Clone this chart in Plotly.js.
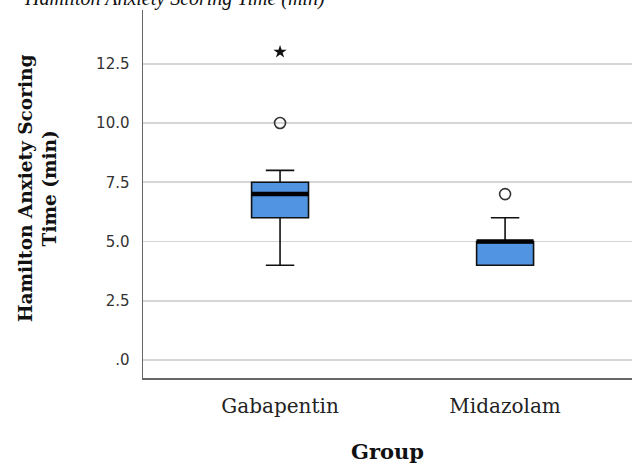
<!DOCTYPE html>
<html>
<head>
<meta charset="utf-8">
<script src="https://cdn.plot.ly/plotly-3.0.1.min.js"></script>
<style>html,body{margin:0;padding:0;background:#fff;}#chart{width:632px;height:464px;}</style>
</head>
<body>
<div id="chart"></div>
<script>
const groups = ['Gabapentin', 'Midazolam'];
const q1 = [6, 4];
const medians = [7, 5];
const q3 = [7.5, 5];
const lowerWhisker = [4, 4];
const upperWhisker = [8, 6];
const outlierGroups = ['Gabapentin', 'Midazolam'];
const outlierValues = [10, 7];
const extremeGroups = ['Gabapentin'];
const extremeValues = [13];
const yTickVals = [0, 2.5, 5, 7.5, 10, 12.5];
const yTickText = ['.0', '2.5', '5.0', '7.5', '10.0', '12.5'];

const boxWidth = 0.253;

const traces = [
  {
    type: 'box',
    x: groups,
    q1: q1,
    median: medians,
    q3: q3,
    lowerfence: lowerWhisker,
    upperfence: upperWhisker,
    boxpoints: false,
    width: boxWidth,
    whiskerwidth: 0.5,
    fillcolor: 'rgb(81,148,226)',
    line: {color: '#111', width: 1.6},
    hoverinfo: 'skip'
  },
  {
    type: 'box',
    x: groups,
    q1: medians,
    median: medians,
    q3: medians,
    lowerfence: medians,
    upperfence: medians,
    boxpoints: false,
    width: boxWidth,
    whiskerwidth: 0,
    fillcolor: 'rgba(0,0,0,0)',
    line: {color: '#000', width: 4.5},
    hoverinfo: 'skip'
  },
  {
    type: 'scatter',
    mode: 'markers',
    x: outlierGroups,
    y: outlierValues,
    marker: {symbol: 'circle-open', size: 11, color: '#333', line: {width: 1.6, color: '#333'}},
    hoverinfo: 'skip'
  },
  {
    type: 'scatter',
    mode: 'markers',
    x: extremeGroups,
    y: extremeValues,
    marker: {symbol: 'star', size: 10, color: '#111', line: {width: 0}},
    hoverinfo: 'skip'
  }
];

const layout = {
  width: 632,
  height: 464,
  margin: {l: 143, r: 0, t: 10, b: 86},
  paper_bgcolor: '#fff',
  plot_bgcolor: '#fff',
  showlegend: false,
  boxmode: 'overlay',
  xaxis: {
    type: 'category',
    categoryorder: 'array',
    categoryarray: groups,
    range: [-0.609, 1.564],
    showgrid: false,
    zeroline: false,
    showline: true,
    linecolor: '#666',
    linewidth: 1.5,
    ticks: '',
    ticklabelstandoff: 9,
    tickfont: {family: 'DejaVu Serif', size: 20, color: '#222'},
    title: {text: '<b>Group</b>', font: {family: 'DejaVu Serif', size: 21, color: '#111'}, standoff: 28},
    fixedrange: true
  },
  yaxis: {
    range: [-0.76, 14.77],
    tickvals: yTickVals,
    ticktext: yTickText,
    showgrid: true,
    gridcolor: '#d6d6d6',
    gridwidth: 1.6,
    zeroline: false,
    showline: true,
    linecolor: '#666',
    linewidth: 1.5,
    ticks: '',
    ticklabelstandoff: 9,
    tickfont: {family: 'DejaVu Sans', size: 15, color: '#333'},
    fixedrange: true
  },
  annotations: [
    {
      text: '<b>Hamilton Anxiety Scoring<br>Time (min)</b>',
      textangle: -90,
      xref: 'paper', yref: 'paper',
      x: (37 - 143) / 489, y: (378 - 189) / 368,
      xanchor: 'center', yanchor: 'middle',
      showarrow: false,
      font: {family: 'DejaVu Serif', size: 18.5, color: '#111'}
    },
    {
      text: '<i>Hamilton Anxiety Scoring Time (min)</i>',
      xref: 'paper', yref: 'paper',
      x: (327 - 143) / 489, y: (378 + 2) / 368,
      xanchor: 'right', yanchor: 'middle',
      showarrow: false,
      font: {family: 'Liberation Serif', size: 20, color: '#111'}
    }
  ]
};

Plotly.newPlot('chart', traces, layout, {staticPlot: true, displayModeBar: false});
</script>
</body>
</html>
